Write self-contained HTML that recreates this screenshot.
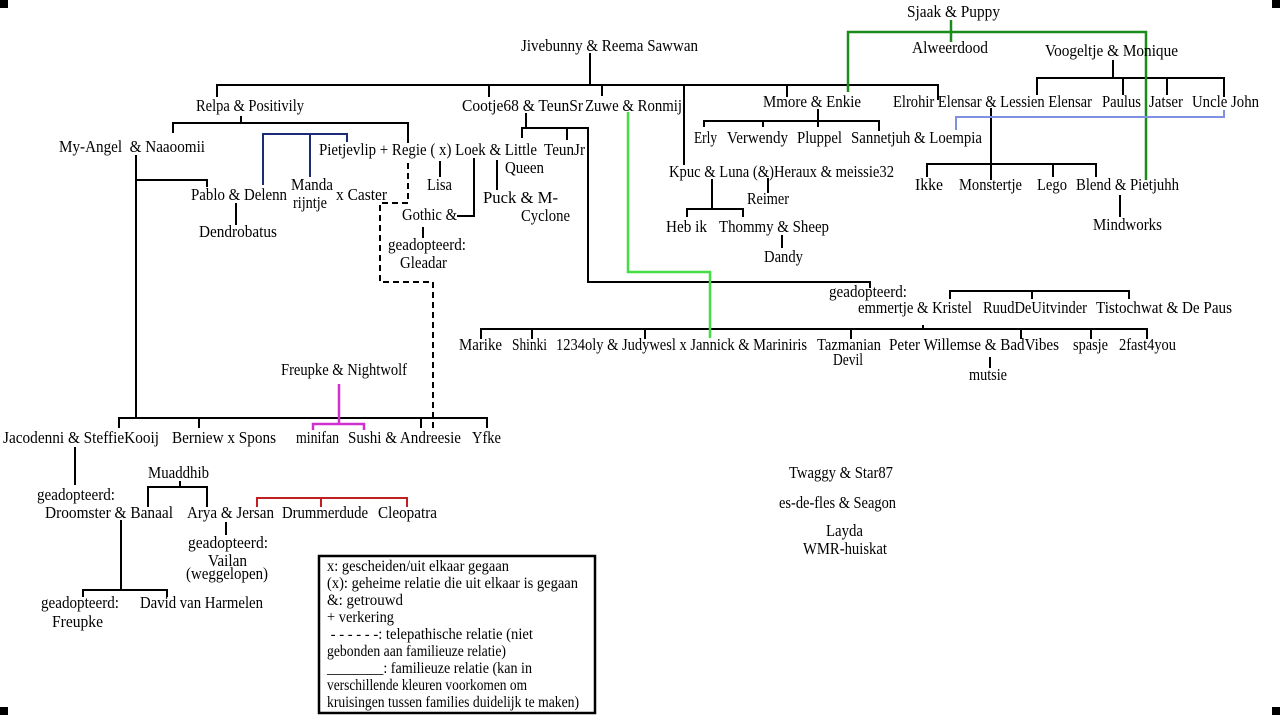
<!DOCTYPE html>
<html>
<head>
<meta charset="utf-8">
<style>
html,body{margin:0;padding:0;background:#fff;}
svg{display:block;}
text{font-family:"Liberation Serif","Times New Roman",serif;font-size:17px;fill:#000;}
.lg{font-size:15.5px;}
</style>
</head>
<body>
<svg width="1280" height="715" viewBox="0 0 1280 715" xmlns="http://www.w3.org/2000/svg">
<rect width="1280" height="715" fill="#fff"/>
<!-- corner marks -->
<rect x="0" y="0" width="8" height="8" fill="#000"/>
<rect x="1272" y="0" width="8" height="8" fill="#000"/>
<rect x="0" y="707" width="8" height="8" fill="#000"/>
<rect x="1272" y="707" width="8" height="8" fill="#000"/>

<!-- black connectors -->
<g fill="none" stroke="#000" stroke-width="2">
<path d="M590 53 V85"/>
<path d="M217 97 V85 H938 V100"/>
<path d="M489 85 V97"/>
<path d="M602 85 V96"/>
<path d="M684 85 V165"/>
<path d="M787 85 V97"/>
<path d="M241 116 V123"/>
<path d="M173 133 V123 H408 V143"/>
<path d="M136 155 V418"/>
<path d="M136 180 H207 V187"/>
<path d="M236 203 V225"/>
<path d="M440 161 V177"/>
<path d="M457 216 H474 V158"/>
<path d="M423 227 V238"/>
<path d="M497 160 V190"/>
<path d="M526 113 V128"/>
<path d="M522 138 V128 H588 V282 H870 V288"/>
<path d="M567 128 V140"/>
<path d="M481 339 V329 H1147 V339"/>
<path d="M532 329 V339 M645 329 V339 M851 329 V339 M1021 329 V339 M1091 329 V339"/>
<path d="M923 325 V329"/>
<path d="M950 299 V291 H1129 V299"/>
<path d="M1032 291 V299"/>
<path d="M990 357 V368"/>
<path d="M119 428 V418 H487 V428"/>
<path d="M199 418 V428 M421 418 V428"/>
<path d="M1113 60 V78"/>
<path d="M1037 95 V78 H1224 V97"/>
<path d="M1123 78 V95 M1167 78 V95"/>
<path d="M991 108 V180"/>
<path d="M927 177 V164 H1096 V177"/>
<path d="M1053 164 V177"/>
<path d="M1120 195 V217"/>
<path d="M818 109 V127"/>
<path d="M704 127 V121 H879 V131"/>
<path d="M763 121 V127"/>
<path d="M768 178 V193"/>
<path d="M712 179 V209"/>
<path d="M687 217 V209 H743 V217"/>
<path d="M782 235 V248"/>
<path d="M75 447 V485"/>
<path d="M180 481 V487"/>
<path d="M148 507 V487 H207 V507"/>
<path d="M226 522 V535"/>
<path d="M121 520 V590"/>
<path d="M83 597 V590 H167 V597"/>
</g>

<!-- dashed telepathic line -->
<path d="M408 163 V203 H380 V282 H433 V430" fill="none" stroke="#000" stroke-width="2" stroke-dasharray="6 4"/>

<!-- colored connectors -->
<g fill="none" stroke-width="2.5">
<path d="M848 92 V32 H1146 V180" stroke="#1b8c1b"/>
<path d="M951 20 V42" stroke="#1b8c1b"/>
<path d="M628 112 V272 H710 V338" stroke="#44dd44"/>
<path d="M263 185 V134 H347 V142" stroke="#1c2a7a" stroke-width="2"/>
<path d="M310 134 V177" stroke="#1c2a7a" stroke-width="2"/>
<path d="M956 130 V117 H1224 V110" stroke="#8090e0" stroke-width="2"/>
<path d="M339 384 V424" stroke="#d030d0"/>
<path d="M313 430 V424 H364 V430" stroke="#d030d0"/>
<path d="M257 507 V498 H407 V507" stroke="#c02020" stroke-width="2"/>
<path d="M321 498 V507" stroke="#c02020" stroke-width="2"/>
</g>

<!-- labels -->
<g>
<text x="907" y="17" textLength="93" lengthAdjust="spacingAndGlyphs">Sjaak &amp; Puppy</text>
<text x="912" y="53" textLength="76" lengthAdjust="spacingAndGlyphs">Alweerdood</text>
<text x="521" y="51" textLength="177" lengthAdjust="spacingAndGlyphs">Jivebunny &amp; Reema Sawwan</text>
<text x="1045" y="56" textLength="133" lengthAdjust="spacingAndGlyphs">Voogeltje &amp; Monique</text>
<text x="196" y="111" textLength="108" lengthAdjust="spacingAndGlyphs">Relpa &amp; Positivily</text>
<text x="462" y="111" textLength="121" lengthAdjust="spacingAndGlyphs">Cootje68 &amp; TeunSr</text>
<text x="585" y="111" textLength="97" lengthAdjust="spacingAndGlyphs">Zuwe &amp; Ronmij</text>
<text x="763" y="107" textLength="98" lengthAdjust="spacingAndGlyphs">Mmore &amp; Enkie</text>
<text x="893" y="107" textLength="199" lengthAdjust="spacingAndGlyphs">Elrohir Elensar &amp; Lessien Elensar</text>
<text x="1102" y="107" textLength="39" lengthAdjust="spacingAndGlyphs">Paulus</text>
<text x="1149" y="107" textLength="34" lengthAdjust="spacingAndGlyphs">Jatser</text>
<text x="1192" y="107" textLength="67" lengthAdjust="spacingAndGlyphs">Uncle John</text>
<text x="59" y="152" textLength="146" lengthAdjust="spacingAndGlyphs">My-Angel &#160;&amp; Naaoomii</text>
<text x="319" y="155" textLength="218" lengthAdjust="spacingAndGlyphs">Pietjevlip + Regie ( x) Loek &amp; Little</text>
<text x="544" y="155" textLength="41" lengthAdjust="spacingAndGlyphs">TeunJr</text>
<text x="694" y="143" textLength="23" lengthAdjust="spacingAndGlyphs">Erly</text>
<text x="727" y="143" textLength="61" lengthAdjust="spacingAndGlyphs">Verwendy</text>
<text x="797" y="143" textLength="45" lengthAdjust="spacingAndGlyphs">Pluppel</text>
<text x="851" y="143" textLength="131" lengthAdjust="spacingAndGlyphs">Sannetjuh &amp; Loempia</text>
<text x="505" y="173" textLength="39" lengthAdjust="spacingAndGlyphs">Queen</text>
<text x="669" y="177" textLength="225" lengthAdjust="spacingAndGlyphs">Kpuc &amp; Luna (&amp;)Heraux &amp; meissie32</text>
<text x="915" y="190" textLength="28" lengthAdjust="spacingAndGlyphs">Ikke</text>
<text x="959" y="190" textLength="63" lengthAdjust="spacingAndGlyphs">Monstertje</text>
<text x="1037" y="190" textLength="30" lengthAdjust="spacingAndGlyphs">Lego</text>
<text x="1076" y="190" textLength="103" lengthAdjust="spacingAndGlyphs">Blend &amp; Pietjuhh</text>
<text x="427" y="190" textLength="25" lengthAdjust="spacingAndGlyphs">Lisa</text>
<text x="291" y="190" textLength="42" lengthAdjust="spacingAndGlyphs">Manda</text>
<text x="191" y="200" textLength="96" lengthAdjust="spacingAndGlyphs">Pablo &amp; Delenn</text>
<text x="336" y="200" textLength="51" lengthAdjust="spacingAndGlyphs">x Caster</text>
<text x="483" y="203" textLength="75" lengthAdjust="spacingAndGlyphs">Puck &amp; M-</text>
<text x="747" y="204" textLength="42" lengthAdjust="spacingAndGlyphs">Reimer</text>
<text x="293" y="208" textLength="34" lengthAdjust="spacingAndGlyphs">rijntje</text>
<text x="402" y="220" textLength="55" lengthAdjust="spacingAndGlyphs">Gothic &amp;</text>
<text x="521" y="221" textLength="49" lengthAdjust="spacingAndGlyphs">Cyclone</text>
<text x="1093" y="230" textLength="69" lengthAdjust="spacingAndGlyphs">Mindworks</text>
<text x="666" y="232" textLength="41" lengthAdjust="spacingAndGlyphs">Heb ik</text>
<text x="719" y="232" textLength="110" lengthAdjust="spacingAndGlyphs">Thommy &amp; Sheep</text>
<text x="199" y="237" textLength="78" lengthAdjust="spacingAndGlyphs">Dendrobatus</text>
<text x="388" y="250" textLength="78" lengthAdjust="spacingAndGlyphs">geadopteerd:</text>
<text x="400" y="268" textLength="47" lengthAdjust="spacingAndGlyphs">Gleadar</text>
<text x="764" y="262" textLength="39" lengthAdjust="spacingAndGlyphs">Dandy</text>
<text x="829" y="297" textLength="78" lengthAdjust="spacingAndGlyphs">geadopteerd:</text>
<text x="858" y="313" textLength="114" lengthAdjust="spacingAndGlyphs">emmertje &amp; Kristel</text>
<text x="983" y="313" textLength="104" lengthAdjust="spacingAndGlyphs">RuudDeUitvinder</text>
<text x="1096" y="313" textLength="136" lengthAdjust="spacingAndGlyphs">Tistochwat &amp; De Paus</text>
<text x="459" y="350" textLength="43" lengthAdjust="spacingAndGlyphs">Marike</text>
<text x="512" y="350" textLength="35" lengthAdjust="spacingAndGlyphs">Shinki</text>
<text x="556" y="350" textLength="251" lengthAdjust="spacingAndGlyphs">1234oly &amp; Judywesl x Jannick &amp; Mariniris</text>
<text x="817" y="350" textLength="64" lengthAdjust="spacingAndGlyphs">Tazmanian</text>
<text x="833" y="365" textLength="30" lengthAdjust="spacingAndGlyphs">Devil</text>
<text x="889" y="350" textLength="170" lengthAdjust="spacingAndGlyphs">Peter Willemse &amp; BadVibes</text>
<text x="1073" y="350" textLength="35" lengthAdjust="spacingAndGlyphs">spasje</text>
<text x="1119" y="350" textLength="57" lengthAdjust="spacingAndGlyphs">2fast4you</text>
<text x="969" y="380" textLength="38" lengthAdjust="spacingAndGlyphs">mutsie</text>
<text x="281" y="375" textLength="126" lengthAdjust="spacingAndGlyphs">Freupke &amp; Nightwolf</text>
<text x="3" y="443" textLength="156" lengthAdjust="spacingAndGlyphs">Jacodenni &amp; SteffieKooij</text>
<text x="172" y="443" textLength="104" lengthAdjust="spacingAndGlyphs">Berniew x Spons</text>
<text x="296" y="443" textLength="43" lengthAdjust="spacingAndGlyphs">minifan</text>
<text x="348" y="443" textLength="113" lengthAdjust="spacingAndGlyphs">Sushi &amp; Andreesie</text>
<text x="472" y="443" textLength="29" lengthAdjust="spacingAndGlyphs">Yfke</text>
<text x="789" y="478" textLength="104" lengthAdjust="spacingAndGlyphs">Twaggy &amp; Star87</text>
<text x="148" y="478" textLength="61" lengthAdjust="spacingAndGlyphs">Muaddhib</text>
<text x="37" y="500" textLength="78" lengthAdjust="spacingAndGlyphs">geadopteerd:</text>
<text x="779" y="508" textLength="117" lengthAdjust="spacingAndGlyphs">es-de-fles &amp; Seagon</text>
<text x="45" y="518" textLength="128" lengthAdjust="spacingAndGlyphs">Droomster &amp; Banaal</text>
<text x="187" y="518" textLength="87" lengthAdjust="spacingAndGlyphs">Arya &amp; Jersan</text>
<text x="282" y="518" textLength="86" lengthAdjust="spacingAndGlyphs">Drummerdude</text>
<text x="378" y="518" textLength="59" lengthAdjust="spacingAndGlyphs">Cleopatra</text>
<text x="826" y="536" textLength="37" lengthAdjust="spacingAndGlyphs">Layda</text>
<text x="188" y="548" textLength="80" lengthAdjust="spacingAndGlyphs">geadopteerd:</text>
<text x="803" y="554" textLength="84" lengthAdjust="spacingAndGlyphs">WMR-huiskat</text>
<text x="208" y="566" textLength="39" lengthAdjust="spacingAndGlyphs">Vailan</text>
<text x="186" y="579" textLength="82" lengthAdjust="spacingAndGlyphs">(weggelopen)</text>
<text x="41" y="608" textLength="78" lengthAdjust="spacingAndGlyphs">geadopteerd:</text>
<text x="140" y="608" textLength="123" lengthAdjust="spacingAndGlyphs">David van Harmelen</text>
<text x="52" y="627" textLength="51" lengthAdjust="spacingAndGlyphs">Freupke</text>
</g>

<!-- legend -->
<rect x="319" y="556" width="276" height="157" fill="#fff" stroke="#000" stroke-width="2.5"/>
<g>
<text class="lg" x="327" y="571" textLength="182" lengthAdjust="spacingAndGlyphs">x: gescheiden/uit elkaar gegaan</text>
<text class="lg" x="327" y="588" textLength="251" lengthAdjust="spacingAndGlyphs">(x): geheime relatie die uit elkaar is gegaan</text>
<text class="lg" x="327" y="605" textLength="76" lengthAdjust="spacingAndGlyphs">&amp;: getrouwd</text>
<text class="lg" x="327" y="622" textLength="67" lengthAdjust="spacingAndGlyphs">+ verkering</text>
<text class="lg" x="327" y="639" textLength="206" lengthAdjust="spacingAndGlyphs">&#160;- - - - - -: telepathische relatie (niet</text>
<text class="lg" x="327" y="656" textLength="179" lengthAdjust="spacingAndGlyphs">gebonden aan familieuze relatie)</text>
<text class="lg" x="327" y="673" textLength="205" lengthAdjust="spacingAndGlyphs">________: familieuze relatie (kan in</text>
<text class="lg" x="327" y="690" textLength="200" lengthAdjust="spacingAndGlyphs">verschillende kleuren voorkomen om</text>
<text class="lg" x="327" y="707" textLength="252" lengthAdjust="spacingAndGlyphs">kruisingen tussen families duidelijk te maken)</text>
</g>
</svg>
</body>
</html>
